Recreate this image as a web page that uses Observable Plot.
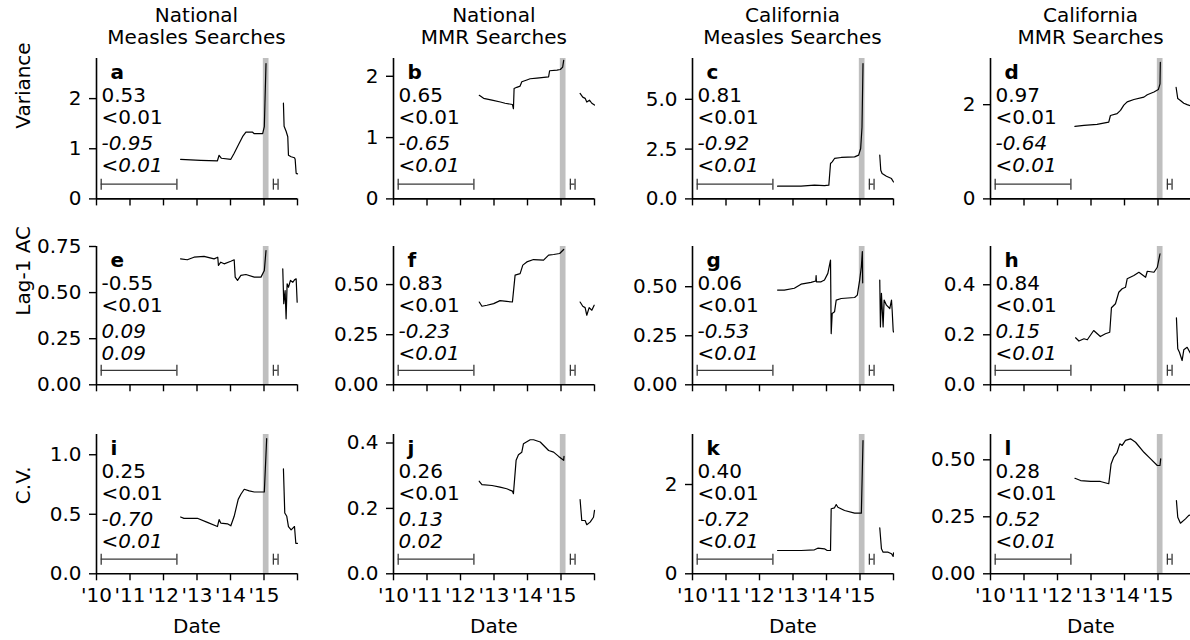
<!DOCTYPE html>
<html><head><meta charset="utf-8">
<script src="https://cdn.jsdelivr.net/npm/d3@7"></script>
<script src="https://cdn.jsdelivr.net/npm/@observablehq/plot@0.6"></script>
<style>
body{margin:0;background:#fff;}
#fig{position:relative;width:1190px;height:640px;overflow:hidden;font-family:"DejaVu Sans";background:#fff;}
.title{position:absolute;text-align:center;font-size:20px;line-height:22px;color:#000;font-family:"DejaVu Sans";}
</style></head><body><div id="fig"></div>
<script>
// ---------- data ----------
const colTitles = [["National","Measles Searches"],["National","MMR Searches"],["California","Measles Searches"],["California","MMR Searches"]];
const rowLabels = ["Variance","Lag-1 AC","C.V."];
const xTicks = [2010,2011,2012,2013,2014,2015,2016];
const band = [{x1: 2014.98, x2: 2015.15}];
const windowLong = [2010.14, 2012.4];
const windowShort = [2015.28, 2015.42];

const letters = ["a","b","c","d","e","f","g","h","i","j","k","l"];
const tauPre  = ["0.53","0.65","0.81","0.97","-0.55","0.83","0.06","0.84","0.25","0.26","0.40","0.28"];
const pPre    = ["<0.01","<0.01","<0.01","<0.01","<0.01","<0.01","<0.01","<0.01","<0.01","<0.01","<0.01","<0.01"];
const tauPost = ["-0.95","-0.65","-0.92","-0.64","0.09","-0.23","-0.53","0.15","-0.70","0.13","-0.72","0.52"];
const pPost   = ["<0.01","<0.01","<0.01","<0.01","0.09","<0.01","<0.01","<0.01","<0.01","0.02","<0.01","<0.01"];

const yTop   = [2.8, 2.29, 7.05, 2.98, 0.75, 0.69, 0.705, 0.553, 1.17, 0.426, 3.12, 0.611];
const yTicks = [[0,1,2],[0,1,2],[0,2.5,5],[0,2],[0,0.25,0.5,0.75],[0,0.25,0.5],[0,0.25,0.5],[0,0.2,0.4],[0,0.5,1],[0,0.2,0.4],[0,2],[0,0.25,0.5]];
const yFmt   = ["d","d",".1f","d",".2f",".2f",".2f",".1f",".1f",".1f","d",".2f"];

const natMeaslesVar = [[2012.51,0.79],[2013.11,0.77],[2013.61,0.76],[2013.66,0.87],[2013.73,0.81],[2014.01,0.79],[2014.11,0.91],[2014.23,1.07],[2014.36,1.24],[2014.46,1.33],[2014.66,1.33],[2014.71,1.30],[2014.96,1.30],[2015.01,1.44],[2015.06,2.70],null,[2015.58,1.91],[2015.6,1.45],[2015.66,1.35],[2015.71,1.24],[2015.73,0.87],[2015.81,0.84],[2015.91,0.82],[2015.93,0.79],[2015.96,0.51],[2016.0,0.50]];
const natMMRVar = [[2012.56,1.69],[2012.69,1.64],[2012.94,1.61],[2013.19,1.58],[2013.33,1.56],[2013.55,1.54],[2013.58,1.47],[2013.6,1.80],[2013.68,1.82],[2013.78,1.84],[2013.83,1.91],[2013.98,1.94],[2014.08,1.96],[2014.28,1.97],[2014.63,1.99],[2014.66,2.09],[2014.88,2.10],[2014.98,2.11],[2015.05,2.15],[2015.08,2.26],null,[2015.57,1.72],[2015.65,1.66],[2015.72,1.64],[2015.77,1.58],[2015.85,1.61],[2015.92,1.56],[2016.0,1.53]];
const caMeaslesVar = [[2012.54,0.64],[2013.24,0.64],[2013.64,0.69],[2013.94,0.67],[2014.07,0.69],[2014.12,1.78],[2014.17,1.86],[2014.24,2.03],[2014.44,2.08],[2014.84,2.11],[2014.96,2.2],[2015.02,2.53],[2015.06,3.6],[2015.09,6.8],null,[2015.59,2.2],[2015.62,1.44],[2015.66,1.28],[2015.79,1.14],[2015.94,1.02],[2016.0,0.85]];
const caMMRVar = [[2012.52,1.54],[2012.79,1.56],[2013.18,1.58],[2013.53,1.63],[2013.58,1.77],[2013.78,1.81],[2013.88,1.88],[2013.98,1.99],[2014.08,2.06],[2014.28,2.11],[2014.58,2.16],[2014.68,2.21],[2014.88,2.27],[2015.01,2.32],[2015.06,2.44],[2015.07,2.90],null,[2015.54,2.37],[2015.59,2.13],[2015.67,2.09],[2015.77,2.03],[2015.87,2.0],[2016.0,1.97]];
const natMeaslesAC = [[2012.51,0.683],[2012.71,0.678],[2012.91,0.692],[2013.21,0.696],[2013.51,0.683],[2013.62,0.692],[2013.64,0.647],[2013.71,0.665],[2013.81,0.656],[2014.01,0.67],[2014.11,0.678],[2014.14,0.584],[2014.21,0.566],[2014.31,0.593],[2014.46,0.598],[2014.71,0.584],[2014.91,0.584],[2015.01,0.62],[2015.06,0.728],null,[2015.56,0.629],[2015.59,0.44],[2015.63,0.511],[2015.66,0.358],[2015.69,0.548],[2015.73,0.529],[2015.79,0.566],[2015.86,0.556],[2015.91,0.569],[2015.96,0.575],[2015.99,0.448]];
const natMMRAC = [[2012.56,0.413],[2012.64,0.392],[2012.79,0.397],[2012.99,0.405],[2013.18,0.42],[2013.38,0.416],[2013.55,0.413],[2013.63,0.547],[2013.78,0.555],[2013.86,0.597],[2013.98,0.613],[2014.18,0.625],[2014.48,0.622],[2014.63,0.647],[2014.78,0.65],[2014.96,0.655],[2015.08,0.675],null,[2015.57,0.413],[2015.65,0.392],[2015.72,0.385],[2015.77,0.347],[2015.84,0.385],[2015.92,0.372],[2015.99,0.397]];
const caMeaslesAC = [[2012.54,0.483],[2012.74,0.483],[2013.04,0.492],[2013.24,0.513],[2013.54,0.522],[2013.68,0.529],[2013.69,0.557],[2013.7,0.525],[2013.84,0.525],[2013.94,0.534],[2014.04,0.568],[2014.12,0.636],[2014.14,0.261],[2014.17,0.364],[2014.24,0.372],[2014.29,0.432],[2014.44,0.44],[2014.84,0.445],[2014.92,0.457],[2014.99,0.534],[2015.04,0.602],[2015.07,0.679],[2015.08,0.52],null,[2015.59,0.534],[2015.61,0.295],[2015.64,0.466],[2015.69,0.295],[2015.72,0.432],[2015.79,0.406],[2015.89,0.389],[2015.94,0.432],[2015.96,0.38],[2015.99,0.278],[2016.0,0.269]];
const caMMRAC = [[2012.54,0.188],[2012.64,0.175],[2012.79,0.184],[2012.89,0.18],[2013.08,0.217],[2013.28,0.193],[2013.43,0.204],[2013.56,0.21],[2013.61,0.308],[2013.73,0.324],[2013.83,0.37],[2013.93,0.384],[2014.03,0.39],[2014.08,0.424],[2014.28,0.437],[2014.43,0.45],[2014.63,0.43],[2014.68,0.454],[2014.88,0.45],[2014.98,0.47],[2015.06,0.524],null,[2015.55,0.268],[2015.59,0.144],[2015.64,0.13],[2015.72,0.097],[2015.77,0.14],[2015.87,0.15],[2015.95,0.13],[2016.0,0.12]];
const natMeaslesCV = [[2012.51,0.477],[2012.61,0.466],[2013.01,0.466],[2013.31,0.432],[2013.61,0.397],[2013.66,0.455],[2013.71,0.426],[2013.91,0.42],[2014.01,0.403],[2014.11,0.483],[2014.23,0.625],[2014.31,0.668],[2014.41,0.71],[2014.56,0.696],[2014.71,0.687],[2015.01,0.687],[2015.08,1.136],null,[2015.58,0.881],[2015.62,0.511],[2015.68,0.483],[2015.73,0.397],[2015.81,0.369],[2015.91,0.397],[2015.95,0.256],[2016.0,0.256]];
const natMMRCV = [[2012.56,0.283],[2012.64,0.273],[2012.94,0.27],[2013.18,0.265],[2013.38,0.26],[2013.55,0.253],[2013.58,0.245],[2013.66,0.347],[2013.73,0.364],[2013.83,0.372],[2013.88,0.398],[2014.08,0.41],[2014.18,0.41],[2014.38,0.403],[2014.63,0.377],[2014.78,0.372],[2014.93,0.359],[2015.08,0.347],[2015.09,0.359],null,[2015.57,0.227],[2015.62,0.163],[2015.72,0.163],[2015.77,0.15],[2015.87,0.158],[2015.97,0.173],[2016.0,0.194]];
const caMeaslesCV = [[2012.54,0.522],[2013.24,0.522],[2013.64,0.537],[2013.74,0.574],[2013.94,0.56],[2014.02,0.522],[2014.12,0.522],[2014.14,1.456],[2014.24,1.478],[2014.29,1.552],[2014.34,1.49],[2014.54,1.418],[2014.84,1.358],[2015.04,1.358],[2015.09,2.985],null,[2015.59,1.03],[2015.64,0.56],[2015.69,0.484],[2015.84,0.484],[2015.94,0.448],[2015.99,0.388],[2016.0,0.47]];
const caMMRCV = [[2012.52,0.419],[2012.69,0.409],[2012.99,0.405],[2013.28,0.405],[2013.53,0.395],[2013.6,0.482],[2013.68,0.512],[2013.78,0.533],[2013.86,0.57],[2013.93,0.563],[2014.03,0.585],[2014.18,0.592],[2014.33,0.577],[2014.58,0.533],[2014.78,0.504],[2014.98,0.475],[2015.06,0.475],[2015.08,0.504],null,[2015.55,0.321],[2015.59,0.248],[2015.67,0.222],[2015.82,0.241],[2015.92,0.256],[2016.0,0.26]];

const series = [natMeaslesVar, natMMRVar, caMeaslesVar, caMMRVar,
                natMeaslesAC, natMMRAC, caMeaslesAC, caMMRAC,
                natMeaslesCV, natMMRCV, caMeaslesCV, caMMRCV];

// ---------- layout ----------
const W = 201;
const colLeft = [96, 393.3, 692, 990];
const rowTop = [58.3, 246, 434];
const rowH = [140.4, 138.3, 139.3];
const ML = 90, MR = 10, MT = 12;
const FS = "20px";
const fig = document.getElementById("fig");

const vbar = {draw(ctx, size) { const h = Math.sqrt(size / Math.PI); ctx.moveTo(0, -h); ctx.lineTo(0, h); }};

colTitles.forEach((t, c) => {
  const d = document.createElement("div");
  d.className = "title";
  d.style.left = colLeft[c] + "px";
  d.style.width = W + "px";
  d.style.top = "4px";
  d.innerHTML = t[0] + "<br>" + t[1];
  fig.appendChild(d);
});

series.forEach((s, i) => {
  const r = Math.floor(i / 4), c = i % 4;
  const pts = s.map(p => p ? {x: p[0], y: p[1]} : {x: NaN, y: NaN});
  const ymax = yTop[i];
  const MB = r === 2 ? 72 : 30;
  const barY = ymax * 0.105;
  const bars = [{x1: windowLong[0], x2: windowLong[1], y: barY}, {x1: windowShort[0], x2: windowShort[1], y: barY}];
  const caps = bars.flatMap(b => [{x: b.x1, y: barY}, {x: b.x2, y: barY}]);
  const fmt = d3.format(yFmt[i]);
  const ann = (txt, dx, dy, extra) => Plot.text([txt], Object.assign({text: d => d, frameAnchor: "top-left", dx, dy, textAnchor: "start", lineAnchor: "middle"}, extra || {}));
  const marks = [
    Plot.rect(band, {x1: "x1", x2: "x2", fill: "#bfbfbf"}),
    Plot.ruleY(bars, {x1: "x1", x2: "x2", y: "y", stroke: "#383838", strokeWidth: 1.3}),
    Plot.dot(caps, {x: "x", y: "y", symbol: vbar, r: 5.5, stroke: "#383838", strokeWidth: 1.3, fill: "none"}),
    Plot.line(pts, {x: "x", y: "y", stroke: "black", strokeWidth: 1.2}),
    Plot.ruleY([0], {stroke: "black", strokeWidth: 1.6}),
    Plot.ruleX([2010], {stroke: "black", strokeWidth: 1.6}),
    Plot.axisY({ticks: yTicks[i], tickFormat: fmt, tickSize: 7, tickPadding: 8, label: null, strokeWidth: 1.4}),
    Plot.axisX({ticks: xTicks, tickFormat: r === 2 ? (d => d < 2016 ? "'" + String(d).slice(2) : "") : (() => ""), tickSize: 7, tickPadding: 7, label: null, strokeWidth: 1.4}),
    ann(letters[i], 14, 14, {fontWeight: "bold"}),
    ann(tauPre[i], 5, 37),
    ann(pPre[i], 5, 59),
    ann(tauPost[i], 5, 85, {fontStyle: "italic"}),
    ann(pPost[i], 5, 107, {fontStyle: "italic"})
  ];
  if (c === 0) marks.push(Plot.text([rowLabels[r]], {text: d => d, frameAnchor: "left", dx: -73, rotate: -90}));
  if (r === 2) marks.push(Plot.text(["Date"], {text: d => d, frameAnchor: "bottom", dy: 59}));
  const svg = Plot.plot({
    width: ML + W + MR,
    height: MT + rowH[r] + MB,
    marginLeft: ML, marginRight: MR, marginTop: MT, marginBottom: MB,
    x: {domain: [2010, 2016]},
    y: {domain: [0, ymax]},
    style: {fontFamily: "DejaVu Sans", fontSize: FS, color: "black", background: "transparent", overflow: "visible"},
    marks
  });
  svg.style.position = "absolute";
  svg.style.left = (colLeft[c] - ML) + "px";
  svg.style.top = (rowTop[r] - MT) + "px";
  fig.appendChild(svg);
});
</script>
</body></html>
